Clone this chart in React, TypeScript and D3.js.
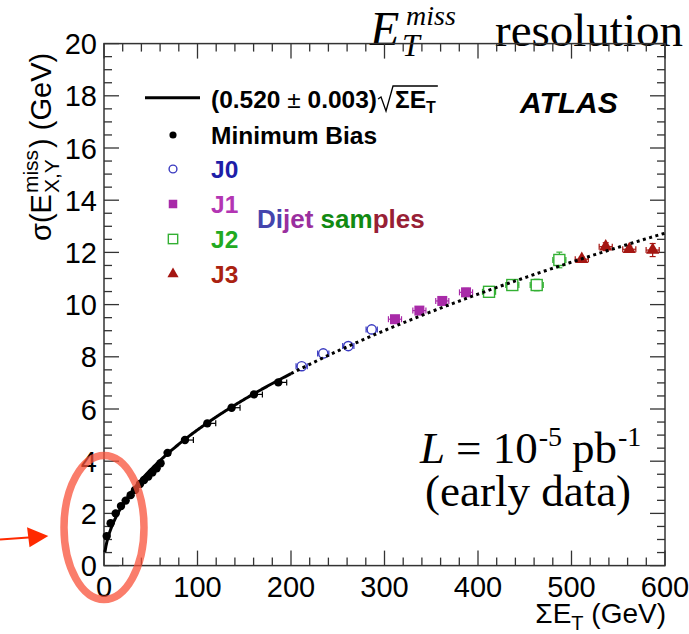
import React, { useEffect, useRef } from "react";
import * as d3 from "d3";

const W = 689;
const H = 634;

// Minimum Bias
const mbX = [2.9, 7.1, 12.5, 18.2, 23.2, 28.5, 33.2, 38.5, 42.8, 47.4, 51.7, 56.3, 60.5, 68, 86.6, 110.5, 136.5, 160.4, 186.4];
const mbY = [1.13, 1.62, 2.0, 2.28, 2.49, 2.7, 2.9, 3.13, 3.28, 3.41, 3.57, 3.73, 3.92, 4.32, 4.81, 5.45, 6.05, 6.56, 7.02];
const mbXErrLo = [0.5, 0.5, 0.5, 0.5, 0.5, 0.5, 0.5, 0.5, 0.5, 0.5, 0.5, 0.5, 0.5, 1, 2, 2, 2, 2, 2];
const mbXErrHi = [1, 1, 1, 1, 1, 1, 1, 1, 1, 1, 1, 1, 1, 3, 9, 9, 9, 9, 9];

// Dijet samples
const j0X = [211.4, 234.5, 261.3, 286.3];
const j0Y = [7.64, 8.13, 8.41, 9.05];
const j0XErr = [6, 6, 6, 6];
const j0YErr = [0.08, 0.08, 0.1, 0.1];

const j1X = [311.2, 337.3, 361.8, 387.2];
const j1Y = [9.44, 9.77, 10.14, 10.47];
const j1XErr = [7, 7, 7, 7];
const j1YErr = [0.1, 0.1, 0.12, 0.15];

const j2X = [411.8, 436.7, 462.8, 487];
const j2Y = [10.49, 10.75, 10.75, 11.71];
const j2XErr = [7, 7, 7, 7];
const j2YErr = [0.1, 0.12, 0.22, 0.3];

const j3X = [511, 536.6, 561.8, 586.8];
const j3Y = [11.74, 12.22, 12.12, 12.09];
const j3XErr = [7, 7, 7, 7];
const j3YErr = [0.08, 0.15, 0.12, 0.25];

const fitCoef = 0.52;
const fitSolidMax = 200;

const xTicks = [0, 100, 200, 300, 400, 500, 600];
const yTicks = [0, 2, 4, 6, 8, 10, 12, 14, 16, 18, 20];

const SANS = "'Liberation Sans', Arial, Helvetica, sans-serif";
const SERIF = "'Liberation Serif', 'Times New Roman', serif";

const C = {
  frame: "#333",
  j0: "#3a3ac0",
  j0t: "#1e1ea8",
  j1: "#a82aa8",
  j1t: "#b335b3",
  j2: "#33b033",
  j2t: "#22aa22",
  j3: "#a51612",
  j3t: "#aa2211",
};

export default function App() {
  const ref = useRef<SVGSVGElement>(null);

  useEffect(() => {
    const svg = d3.select(ref.current);
    svg.selectAll("*").remove();

    const x = d3.scaleLinear().domain([0, 600]).range([104, 665]);
    const y = d3.scaleLinear().domain([0, 20]).range([565.6, 43.6]);
    const [x0, x1] = x.range();
    const [y0, y1] = y.range();

    // Title
    const title = svg.append("g").attr("font-family", SERIF).attr("fill", "#000");
    title.append("text").attr("x", 370).attr("y", 45).attr("font-size", 48).attr("font-style", "italic").text("E");
    title.append("text").attr("x", 402).attr("y", 56).attr("font-size", 32).attr("font-style", "italic").text("T");
    title.append("text").attr("x", 406).attr("y", 25).attr("font-size", 28).attr("font-style", "italic").text("miss");
    title.append("text").attr("x", 495).attr("y", 46).attr("font-size", 47).text("resolution");

    // Frame
    const ax = svg.append("g").attr("stroke", C.frame).attr("stroke-width", 1.5);
    ax.append("rect").attr("x", x0).attr("y", y1).attr("width", x1 - x0).attr("height", y0 - y1).attr("fill", "none");

    const xMinor = d3.range(0, 600.01, 20);
    const yMinor = d3.range(0, 20.01, 0.5);
    const MAJ = 15, MIN = 8;
    const tickG = svg.append("g").attr("stroke", C.frame).attr("stroke-width", 1.3);
    xMinor.forEach((v) => {
      const len = xTicks.includes(Math.round(v)) ? MAJ : MIN;
      tickG.append("line").attr("x1", x(v)).attr("x2", x(v)).attr("y1", y0).attr("y2", y0 - len);
      tickG.append("line").attr("x1", x(v)).attr("x2", x(v)).attr("y1", y1).attr("y2", y1 + len);
    });
    yMinor.forEach((v) => {
      const len = Math.abs(v / 2 - Math.round(v / 2)) < 1e-6 ? MAJ : MIN;
      tickG.append("line").attr("x1", x0).attr("x2", x0 + len).attr("y1", y(v)).attr("y2", y(v));
      tickG.append("line").attr("x1", x1).attr("x2", x1 - len).attr("y1", y(v)).attr("y2", y(v));
    });

    // Tick labels
    const lab = svg.append("g").attr("font-family", SANS).attr("font-size", 29).attr("fill", "#000");
    xTicks.forEach((v) => {
      lab.append("text").attr("x", x(v)).attr("y", 597).attr("text-anchor", "middle").text(String(v));
    });
    yTicks.forEach((v) => {
      lab.append("text").attr("x", 97).attr("y", y(v) + 10.5).attr("text-anchor", "end").text(String(v));
    });

    // Axis titles
    const xt = svg.append("text").attr("font-family", SANS).attr("font-size", 28).attr("y", 623).attr("x", 666).attr("text-anchor", "end");
    xt.append("tspan").text("ΣE");
    xt.append("tspan").attr("font-size", 20).attr("dy", 7).text("T");
    xt.append("tspan").attr("dy", -7).text(" (GeV)");

    const yt = svg.append("g").attr("transform", "translate(51,241) rotate(-90)").attr("font-family", SANS).attr("font-size", 29);
    const ytA = yt.append("text").attr("x", 0).attr("y", 0).text("σ(E");
    const wA = (ytA.node() as SVGTextElement).getComputedTextLength();
    const ytS = yt.append("text").attr("x", wA + 1).attr("y", -13).attr("font-size", 21).text("miss");
    yt.append("text").attr("x", wA + 1).attr("y", 8).attr("font-size", 21).text("X,Y");
    const wS = (ytS.node() as SVGTextElement).getComputedTextLength();
    yt.append("text").attr("x", wA + wS + 3).attr("y", 0).text(") (GeV)");

    // Error bars + markers
    const data = svg.append("g");
    const cap = 3;
    function hbar(g: any, cx: number, lo: number, hi: number, cy: number, color: string) {
      g.append("line").attr("x1", x(lo)).attr("x2", x(hi)).attr("y1", y(cy)).attr("y2", y(cy)).attr("stroke", color).attr("stroke-width", 1.2);
      [lo, hi].forEach((e) =>
        g.append("line").attr("x1", x(e)).attr("x2", x(e)).attr("y1", y(cy) - cap).attr("y2", y(cy) + cap).attr("stroke", color).attr("stroke-width", 1.2)
      );
    }
    function vbar(g: any, cx: number, lo: number, hi: number, color: string) {
      g.append("line").attr("x1", x(cx)).attr("x2", x(cx)).attr("y1", y(lo)).attr("y2", y(hi)).attr("stroke", color).attr("stroke-width", 1.2);
      [lo, hi].forEach((e) =>
        g.append("line").attr("x1", x(cx) - cap).attr("x2", x(cx) + cap).attr("y1", y(e)).attr("y2", y(e)).attr("stroke", color).attr("stroke-width", 1.2)
      );
    }

    mbX.forEach((v, i) => {
      hbar(data, v, v - mbXErrLo[i], v + mbXErrHi[i], mbY[i], "#000");
    });
    mbX.forEach((v, i) => {
      data.append("circle").attr("cx", x(v)).attr("cy", y(mbY[i])).attr("r", 4.2).attr("fill", "#000");
    });

    const sets = [
      { xs: j0X, ys: j0Y, xe: j0XErr, ye: j0YErr, color: C.j0, kind: "ocircle" },
      { xs: j1X, ys: j1Y, xe: j1XErr, ye: j1YErr, color: C.j1, kind: "fsquare" },
      { xs: j2X, ys: j2Y, xe: j2XErr, ye: j2YErr, color: C.j2, kind: "osquare" },
      { xs: j3X, ys: j3Y, xe: j3XErr, ye: j3YErr, color: C.j3, kind: "triangle" },
    ];

    function marker(g: any, kind: string, px: number, py: number, color: string, k = 1) {
      if (kind === "ocircle") {
        g.append("circle").attr("cx", px).attr("cy", py).attr("r", 4.6 * k).attr("fill", "#fff").attr("stroke", color).attr("stroke-width", 1.4);
      } else if (kind === "fsquare") {
        const s = 10 * k;
        g.append("rect").attr("x", px - s / 2).attr("y", py - s / 2).attr("width", s).attr("height", s).attr("fill", color);
      } else if (kind === "osquare") {
        const s = 11 * k;
        g.append("rect").attr("x", px - s / 2).attr("y", py - s / 2).attr("width", s).attr("height", s).attr("fill", "#fff").attr("stroke", color).attr("stroke-width", 1.4);
      } else if (kind === "triangle") {
        g.append("path").attr("transform", `translate(${px},${py})`).attr("d", d3.symbol().type(d3.symbolTriangle).size(75 * k * k)()).attr("fill", color);
      } else {
        g.append("circle").attr("cx", px).attr("cy", py).attr("r", 4.2 * k).attr("fill", color);
      }
    }

    sets.forEach((s) => {
      s.xs.forEach((v, i) => {
        hbar(data, v, v - s.xe[i], v + s.xe[i], s.ys[i], s.color);
        vbar(data, v, s.ys[i] - s.ye[i], s.ys[i] + s.ye[i], s.color);
      });
      s.xs.forEach((v, i) => marker(data, s.kind, x(v), y(s.ys[i]), s.color));
    });

    // Fit curve
    const fit = (e: number) => fitCoef * Math.sqrt(e);
    const line = d3.line<number>().x((e) => x(e)).y((e) => y(fit(e)));
    const solidPts = d3.range(1, fitSolidMax + 0.01, 1);
    const dotPts = d3.range(fitSolidMax, 600.01, 2);
    svg.append("path").attr("d", line(solidPts)).attr("fill", "none").attr("stroke", "#000").attr("stroke-width", 3);
    svg.append("path").attr("d", line(dotPts)).attr("fill", "none").attr("stroke", "#000").attr("stroke-width", 3).attr("stroke-dasharray", "3 3.5");

    // Legend
    const lg = svg.append("g").attr("font-family", SANS).attr("font-weight", "bold").attr("font-size", 24.5);
    lg.append("line").attr("x1", 145).attr("x2", 200).attr("y1", 97.7).attr("y2", 97.7).attr("stroke", "#000").attr("stroke-width", 3);
    const fA = lg.append("text").attr("x", 211).attr("y", 108);
    fA.append("tspan").text("(0.520 ");
    fA.append("tspan").attr("font-weight", "normal").text("±");
    fA.append("tspan").text(" 0.003)");
    const fAw = (fA.node() as SVGTextElement).getComputedTextLength();
    const sx = 211 + fAw + 1;
    const fB = lg.append("text").attr("x", sx + 17).attr("y", 108);
    fB.append("tspan").text("ΣE");
    fB.append("tspan").attr("font-size", 16).attr("dy", 5).text("T");
    const fBw = (fB.node() as SVGTextElement).getComputedTextLength();
    lg.append("path")
      .attr("d", `M${sx},${99} L${sx + 3},${97} L${sx + 8},${111} L${sx + 15},${86} L${sx + 17 + fBw + 2},${86}`)
      .attr("fill", "none").attr("stroke", "#000").attr("stroke-width", 1.3);

    const rows = [
      { label: "Minimum Bias", kind: "dot", color: "#000", tcolor: "#000", yb: 144 },
      { label: "J0", kind: "ocircle", color: C.j0, tcolor: C.j0t, yb: 178 },
      { label: "J1", kind: "fsquare", color: C.j1, tcolor: C.j1t, yb: 213 },
      { label: "J2", kind: "osquare", color: C.j2, tcolor: C.j2t, yb: 248 },
      { label: "J3", kind: "triangle", color: C.j3, tcolor: C.j3t, yb: 283 },
    ];
    rows.forEach((r) => {
      marker(lg, r.kind, 173, r.yb - 9, r.color, 0.85);
      lg.append("text").attr("x", 211).attr("y", r.yb).attr("fill", r.tcolor).text(r.label);
    });

    const dj = lg.append("text").attr("x", 257).attr("y", 228).attr("font-size", 26);
    dj.append("tspan").attr("fill", "#4545ad").text("Di");
    dj.append("tspan").attr("fill", "#9a2f9e").text("jet ");
    dj.append("tspan").attr("fill", "#128a12").text("sam");
    dj.append("tspan").attr("fill", "#982035").text("ples");

    svg.append("text").attr("x", 520).attr("y", 113).attr("font-family", SANS).attr("font-weight", "bold").attr("font-style", "italic").attr("font-size", 30).text("ATLAS");

    // Luminosity: pieces laid out one after another
    const lum = svg.append("g").attr("font-family", SERIF);
    const pieces = [
      { t: "L", fs: 45, dy: 0, italic: true, gap: 11 },
      { t: "= 10", fs: 45, dy: 0, italic: false, gap: 1 },
      { t: "-5", fs: 28, dy: -17, italic: false, gap: 10 },
      { t: "pb", fs: 45, dy: 0, italic: false, gap: 1 },
      { t: "-1", fs: 28, dy: -17, italic: false, gap: 0 },
    ];
    let cx = 420;
    pieces.forEach((p) => {
      const t = lum.append("text").attr("x", cx).attr("y", 463 + p.dy).attr("font-size", p.fs)
        .attr("font-style", p.italic ? "italic" : "normal").text(p.t);
      cx += (t.node() as SVGTextElement).getComputedTextLength() + p.gap;
    });
    svg.append("text").attr("x", 425).attr("y", 506).attr("font-family", SERIF).attr("font-size", 45).text("(early data)");

    // Annotation
    svg.append("ellipse").attr("cx", 104).attr("cy", 527.5).attr("rx", 40).attr("ry", 72)
      .attr("fill", "none").attr("stroke", "#f8523a").attr("stroke-opacity", 0.75).attr("stroke-width", 7.5);
    svg.append("line").attr("x1", 0).attr("y1", 539.5).attr("x2", 32).attr("y2", 537.3).attr("stroke", "#ff2a00").attr("stroke-width", 2);
    svg.append("path").attr("d", "M48.3,536 L27,527.3 L29.5,547.3 Z").attr("fill", "#ff2a00");
  }, []);

  return (
    <svg
      ref={ref}
      width={W}
      height={H}
      style={{ position: "absolute", left: 0, top: 0, background: "#fff" }}
    />
  );
}
